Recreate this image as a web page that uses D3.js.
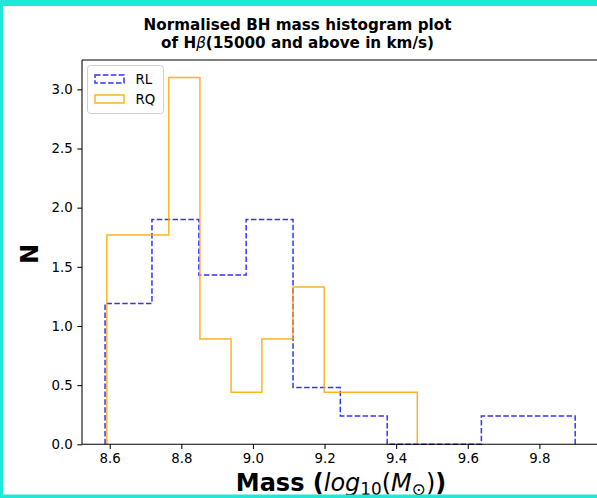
<!DOCTYPE html>
<html>
<head>
<meta charset="utf-8">
<script src="https://cdn.jsdelivr.net/npm/d3@7"></script>
<style>
  html, body { margin: 0; padding: 0; background: #fff; }
  svg { display: block; font-family: "DejaVu Sans", sans-serif; }
</style>
</head>
<body>
<svg id="chart" width="597" height="498"></svg>
<script>
// ---- Data ----
const seriesNames = ["RL", "RQ"];
const edgesRL = [8.587, 8.718, 8.849, 8.981, 9.112, 9.244, 9.375, 9.506, 9.638, 9.769, 9.900];
const densityRL = [1.19, 1.90, 1.43, 1.90, 0.48, 0.24, 0.0, 0.0, 0.24, 0.24];
const edgesRQ = [8.592, 8.678, 8.765, 8.852, 8.939, 9.025, 9.112, 9.199, 9.286, 9.372, 9.459];
const densityRQ = [1.77, 1.77, 3.10, 0.89, 0.44, 0.89, 1.33, 0.44, 0.44, 0.44];
const xTicks = [8.6, 8.8, 9.0, 9.2, 9.4, 9.6, 9.8];
const yTicks = [0.0, 0.5, 1.0, 1.5, 2.0, 2.5, 3.0];

// ---- Layout ----
const svg = d3.select("#chart");
const W = 597, H = 498;
const plot = { left: 82, right: 600.6, top: 60, bottom: 444.3 };

const x = d3.scaleLinear().domain([8.5226, 9.971]).range([plot.left, plot.right]);
const y = d3.scaleLinear().domain([0, 3.248]).range([plot.bottom, plot.top]);

svg.append("rect").attr("x", 0).attr("y", 0).attr("width", W).attr("height", H).attr("fill", "#fff");

// ---- Histogram steps ----
function stepPoints(edges, vals) {
  const pts = [[edges[0], 0]];
  vals.forEach((v, i) => { pts.push([edges[i], v]); pts.push([edges[i + 1], v]); });
  pts.push([edges[edges.length - 1], 0]);
  return pts;
}
const line = d3.line().x(d => x(d[0])).y(d => y(d[1]));

const styles = {
  RL: { color: "blue", dash: "5.5,2.4", opacity: 0.8 },
  RQ: { color: "orange", dash: null, opacity: 0.85 }
};

const g = svg.append("g");
g.append("path")
  .attr("d", line(stepPoints(edgesRL, densityRL)))
  .attr("fill", "none").attr("stroke", styles.RL.color)
  .attr("stroke-opacity", styles.RL.opacity)
  .attr("stroke-width", 1.5).attr("stroke-dasharray", styles.RL.dash);
g.append("path")
  .attr("d", line(stepPoints(edgesRQ, densityRQ)))
  .attr("fill", "none").attr("stroke", styles.RQ.color)
  .attr("stroke-opacity", styles.RQ.opacity)
  .attr("stroke-width", 1.5);

// ---- Axes ----
const fmt = d3.format(".1f");
const xAxis = svg.append("g").attr("transform", `translate(0,${plot.bottom})`)
  .call(d3.axisBottom(x).tickValues(xTicks).tickFormat(fmt).tickSize(4.7).tickPadding(4.5));
const yAxis = svg.append("g").attr("transform", `translate(${plot.left},0)`)
  .call(d3.axisLeft(y).tickValues(yTicks).tickFormat(fmt).tickSize(4.7).tickPadding(4.5));
[xAxis, yAxis].forEach(a => {
  a.select(".domain").remove();
  a.selectAll(".tick line").attr("stroke", "#000").attr("stroke-width", 1.05);
  a.selectAll(".tick text").attr("font-family", "DejaVu Sans").attr("font-size", "13.33px").attr("fill", "#000");
});

// spines
const sp = svg.append("g").attr("stroke", "#000").attr("stroke-width", 1.05).attr("fill", "none");
sp.append("line").attr("x1", plot.left).attr("x2", plot.left).attr("y1", plot.top).attr("y2", plot.bottom);
sp.append("line").attr("x1", plot.left).attr("x2", plot.right).attr("y1", plot.bottom).attr("y2", plot.bottom);
sp.append("line").attr("x1", plot.left).attr("x2", plot.right).attr("y1", plot.top).attr("y2", plot.top);
sp.append("line").attr("x1", plot.right).attr("x2", plot.right).attr("y1", plot.top).attr("y2", plot.bottom);

// ---- Legend ----
const lg = svg.append("g").attr("transform", "translate(87.5,65.5)");
lg.append("rect").attr("width", 76).attr("height", 48).attr("rx", 3)
  .attr("fill", "#fff").attr("fill-opacity", 0.8).attr("stroke", "#d0d0d0").attr("stroke-width", 1);
seriesNames.forEach((name, i) => {
  const s = styles[name];
  const yy = 9.5 + i * 20;
  lg.append("rect").attr("x", 7.5).attr("y", yy).attr("width", 29).attr("height", 8)
    .attr("fill", "none").attr("stroke", s.color).attr("stroke-opacity", s.opacity)
    .attr("stroke-width", 1.5).attr("stroke-dasharray", s.dash);
  lg.append("text").attr("x", 48).attr("y", yy + 9).attr("font-size", "13.33px")
    .attr("fill", "#000").text(name);
});

// ---- Title ----
const title = svg.append("text").attr("x", 297.5).attr("text-anchor", "middle")
  .attr("font-size", "15.2px").attr("font-weight", "bold").attr("fill", "#000");
title.append("tspan").attr("x", 297.5).attr("y", 30).text("Normalised BH mass histogram plot");
const t2 = title.append("tspan").attr("x", 297.5).attr("y", 47.8);
t2.append("tspan").text("of H");
t2.append("tspan").attr("font-style", "italic").attr("font-weight", "normal").text("β");
t2.append("tspan").text("(15000 and above in km/s)");

// ---- Axis labels ----
const xl = svg.append("text").attr("x", 341).attr("y", 491).attr("text-anchor", "middle")
  .attr("font-size", "24px").attr("fill", "#000");
xl.append("tspan").attr("font-weight", "bold").text("Mass (");
xl.append("tspan").attr("font-style", "italic").text("log");
xl.append("tspan").attr("font-size", "16.8px").attr("dy", 4).text("10");
xl.append("tspan").attr("dy", -4).text("(");
xl.append("tspan").attr("font-style", "italic").text("M");
xl.append("tspan").attr("font-size", "16.8px").attr("dy", 4).text("⊙");
xl.append("tspan").attr("dy", -4).text(")");
xl.append("tspan").attr("font-weight", "bold").text(")");

svg.append("text").attr("transform", "translate(37.5,254) rotate(-90)").attr("text-anchor", "middle")
  .attr("font-size", "24px").attr("font-weight", "bold").attr("fill", "#000").text("N");

// ---- Frame border (cyan) ----
const bc = "#1de9d6";
svg.append("rect").attr("x", 0).attr("y", 0).attr("width", W).attr("height", 6).attr("fill", bc);
svg.append("rect").attr("x", 0).attr("y", 0).attr("width", 3).attr("height", H).attr("fill", bc);
svg.append("rect").attr("x", 0).attr("y", 494.5).attr("width", W).attr("height", 3.5).attr("fill", bc);
</script>
</body>
</html>
